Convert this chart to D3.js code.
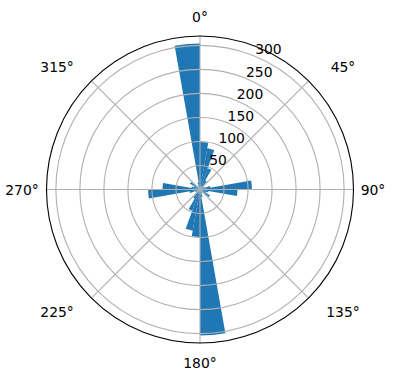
<!DOCTYPE html>
<html>
<head>
<meta charset="utf-8">
<script src="https://cdn.jsdelivr.net/npm/d3@7"></script>
<style>
  html, body { margin: 0; padding: 0; background: #fff; }
  svg { display: block; font-family: "DejaVu Sans", sans-serif; }
</style>
</head>
<body>
<svg id="chart" width="396" height="380"></svg>
<script>
// Bin start angles (degrees, clockwise from north), bin width 10°
const binStarts = [0,10,20,30,40,50,60,70,80,90,100,110,120,130,140,150,160,170,
                   180,190,200,210,220,230,240,250,260,270,280,290,300,310,320,330,340,350];
const counts = [99,87,47,22,12,6,10,22,108,78,18,14,24,10,6,8,16,304,
                99,87,47,22,12,6,10,22,108,78,18,14,24,10,6,8,16,304];
const binWidth = 10;
const radialTicks = [50,100,150,200,250,300];
const angleTicks = [0,45,90,135,180,225,270,315];
const angleLabels = ["0°","45°","90°","135°","180°","225°","270°","315°"];
const rMax = 319.5;

const svg = d3.select("#chart");
const cx = 200, cy = 189.5, R = 153.5;
const g = svg.append("g").attr("transform", `translate(${cx},${cy})`);

const r = d3.scaleLinear().domain([0, rMax]).range([0, R]);
const toRad = d => d * Math.PI / 180;

// bars
const arc = d3.arc().innerRadius(0);
g.append("g").selectAll("path")
  .data(binStarts.map((s, i) => ({s, v: counts[i]})))
  .join("path")
  .attr("d", d => arc({outerRadius: r(d.v), startAngle: toRad(d.s), endAngle: toRad(d.s + binWidth)}))
  .attr("fill", "#1f77b4");

// grid circles
const grid = g.append("g").attr("stroke", "#b0b0b0").attr("stroke-width", 1.1).attr("fill", "none");
grid.selectAll("circle").data(radialTicks).join("circle").attr("r", d => r(d));
// spokes
grid.selectAll("line").data(angleTicks).join("line")
  .attr("x1", 0).attr("y1", 0)
  .attr("x2", d => R * Math.sin(toRad(d)))
  .attr("y2", d => -R * Math.cos(toRad(d)));

// outer frame
g.append("circle").attr("r", R).attr("fill", "none").attr("stroke", "#000").attr("stroke-width", 1.1);

// radial labels at 22.5°
const la = toRad(22.5);
g.append("g").selectAll("text").data(radialTicks).join("text")
  .attr("x", d => r(d) * Math.sin(la))
  .attr("y", d => -r(d) * Math.cos(la) - 2)
  .attr("font-size", 13.9)
  .attr("fill", "#000")
  .text(d => d);

// angle labels
const dist = a => (a % 90 === 0) ? (a === 270 ? 178 : 173) : 188;
const shift = a => (a % 90 === 0) ? 0 : 4.5 * (Math.sin(toRad(2 * a)) > 0 ? 1 : -1);
g.append("g").selectAll("text").data(angleTicks).join("text")
  .attr("x", (d) => dist(d) * Math.sin(toRad(d + shift(d))))
  .attr("y", (d) => -dist(d) * Math.cos(toRad(d + shift(d))))
  .attr("text-anchor", "middle")
  .attr("dominant-baseline", "central")
  .attr("font-size", 13.9)
  .attr("fill", "#000")
  .text((d, i) => angleLabels[i]);
</script>
</body>
</html>
